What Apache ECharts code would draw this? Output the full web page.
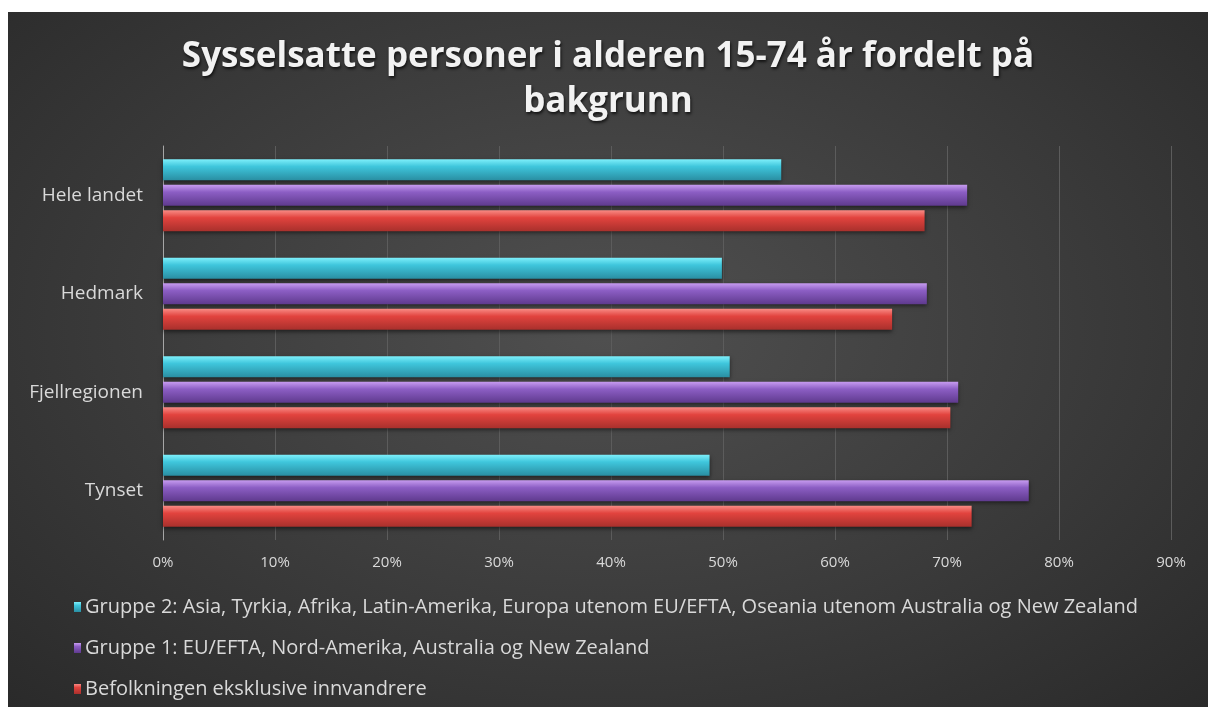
<!DOCTYPE html>
<html>
<head>
<meta charset="utf-8">
<script src="https://cdn.jsdelivr.net/npm/echarts@6/dist/echarts.min.js"></script>
<style>
html, body { margin: 0; padding: 0; background: #ffffff; }
#chart {
  position: absolute; left: 8px; top: 12px; width: 1200px; height: 695px;
  background: radial-gradient(ellipse at 50% 45%, #505050 0%, #3f3f3f 45%, #2a2a2a 100%);
}
</style>
</head>
<body>
<div id="chart"></div>
<script>
// kategorier (ovenfra og ned)
const regions = ['Hele landet', 'Hedmark', 'Fjellregionen', 'Tynset'];
const seriesNames = [
  'Gruppe 2: Asia, Tyrkia, Afrika, Latin-Amerika, Europa utenom EU/EFTA, Oseania utenom Australia og New Zealand',
  'Gruppe 1: EU/EFTA, Nord-Amerika, Australia og New Zealand',
  'Befolkningen eksklusive innvandrere'
];
// andel sysselsatte, prosent
const gruppe2 = [55.2, 49.9, 50.6, 48.8];
const gruppe1 = [71.8, 68.2, 71.0, 77.3];
const befolkning = [68.0, 65.1, 70.3, 72.2];

// farger: lys topp, mørk bunn (gir litt 3D-effekt)
function bevel(top, mid, bottom) {
  return new echarts.graphic.LinearGradient(0, 0, 0, 1, [
    { offset: 0, color: top },
    { offset: 0.35, color: mid },
    { offset: 1, color: bottom }
  ]);
}
const colors = [
  bevel('#7ff0fb', '#3fc6dc', '#2a8fa3'),
  bevel('#c79cf0', '#8c5ec4', '#5f3a8e'),
  bevel('#f88a84', '#e2433e', '#a8302c')
];
const legendColors = ['#3fc6dc', '#8c5ec4', '#e2433e'];

const chart = echarts.init(document.getElementById('chart'));

function makeSeries(i, data) {
  return {
    name: seriesNames[i],
    type: 'bar',
    data: data,
    barWidth: 21,
    barGap: '22%',
    color: legendColors[i],
    itemStyle: {
      color: colors[i],
      shadowColor: 'rgba(0,0,0,0.5)',
      shadowBlur: 4,
      shadowOffsetY: 2
    }
  };
}

chart.setOption({
  animation: false,
  title: {
    text: 'Sysselsatte personer i alderen 15-74 år fordelt på\nbakgrunn',
    left: 'center',
    top: 18,
    textStyle: {
      fontFamily: 'Open Sans',
      fontWeight: 'bold',
      fontSize: 35,
      lineHeight: 45,
      color: '#f2f2f2',
      textShadowColor: 'rgba(0,0,0,0.7)',
      textShadowBlur: 3,
      textShadowOffsetX: 1,
      textShadowOffsetY: 2
    }
  },
  legend: {
    orient: 'vertical',
    left: 66,
    top: 584,
    padding: 0,
    itemGap: 19,
    itemWidth: 7,
    itemHeight: 10,
    icon: 'rect',
    textStyle: {
      fontFamily: 'Open Sans',
      fontSize: 20,
      lineHeight: 22,
      color: '#d9d9d9',
      padding: [0, 0, 0, -1]
    }
  },
  grid: {
    left: 155,
    top: 134,
    width: 1008,
    height: 394
  },
  xAxis: {
    type: 'value',
    min: 0,
    max: 90,
    interval: 10,
    axisLine: { show: false },
    axisTick: { show: false },
    splitLine: { lineStyle: { color: '#5c5c5c', width: 1 } },
    axisLabel: {
      formatter: '{value}%',
      fontFamily: 'Open Sans',
      fontSize: 15,
      color: '#d9d9d9',
      margin: 15
    }
  },
  yAxis: {
    type: 'category',
    data: regions,
    inverse: true,
    axisLine: { lineStyle: { color: '#a6a6a6' } },
    axisTick: { show: false },
    axisLabel: {
      fontFamily: 'Open Sans',
      fontSize: 19,
      color: '#d9d9d9',
      margin: 20
    }
  },
  series: [
    makeSeries(0, gruppe2),
    makeSeries(1, gruppe1),
    makeSeries(2, befolkning)
  ]
});
</script>
</body>
</html>
